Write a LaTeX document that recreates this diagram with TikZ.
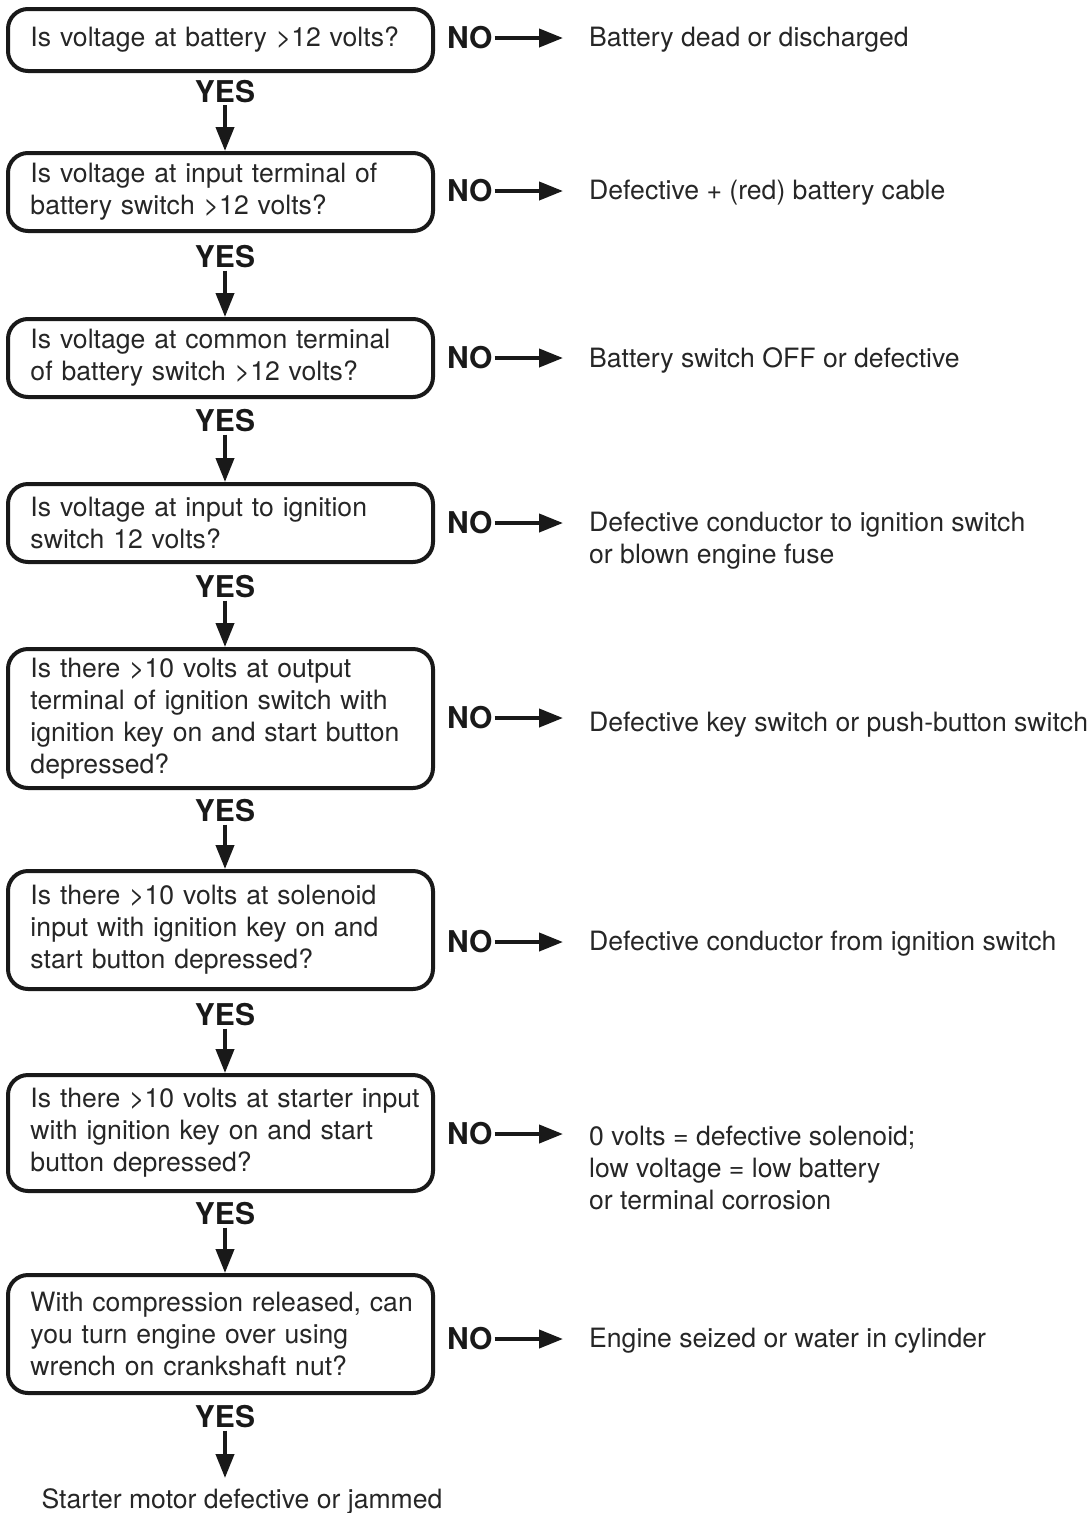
\documentclass[tikz,border=0pt]{standalone}
\usepackage{fontspec}
\setmainfont{TeX Gyre Heros}
\usetikzlibrary{arrows.meta}
\newcommand{\txtfont}{\fontsize{26.6}{32}\selectfont\hyphenpenalty=10000 }
\begin{document}
\begin{tikzpicture}[x=1pt,y=-1pt,
  qbox/.style={draw=black!90, line width=4pt, rounded corners=20pt, minimum width=425pt,
    text width=380pt, inner xsep=22.5pt, inner ysep=2pt, align=left,
    font=\txtfont, text=black!85},
  yeslbl/.style={font=\bfseries\fontsize{30}{32}\selectfont, inner sep=2pt, text=black!90},
  nolbl/.style={font=\bfseries\fontsize{30}{32}\selectfont, inner sep=2pt, text=black!90, anchor=west},
  ans/.style={font=\txtfont, align=left, anchor=west, inner sep=0pt, text=black!85},
  flow/.style={line width=4pt, draw=black!90, -{Triangle[length=24pt,width=18pt]}},
  sidearrow/.style={line width=4pt, draw=black!90, -{Triangle[length=24pt,width=18pt]}}
]
\useasboundingbox (0,0) rectangle (1092,1513);

% question boxes
\node[qbox, minimum height=62pt] (q1) at (220.5,40) {\mbox{Is voltage at battery >12 volts?}};
\node[qbox, minimum height=78pt] (q2) at (220.5,192) {\mbox{Is voltage at input terminal of}\\\mbox{battery switch >12 volts?}};
\node[qbox, minimum height=78pt] (q3) at (220.5,358) {\mbox{Is voltage at common terminal}\\\mbox{of battery switch >12 volts?}};
\node[qbox, minimum height=78pt] (q4) at (220.5,523) {\mbox{Is voltage at input to ignition}\\\mbox{switch 12 volts?}};
\node[qbox, minimum height=139pt] (q5) at (220.5,718.5) {\mbox{Is there >10 volts at output}\\\mbox{terminal of ignition switch with}\\\mbox{ignition key on and start button}\\\mbox{depressed?}};
\node[qbox, minimum height=118pt] (q6) at (220.5,930) {\mbox{Is there >10 volts at solenoid}\\\mbox{input with ignition key on and}\\\mbox{start button depressed?}};
\node[qbox, minimum height=116pt] (q7) at (220.5,1133) {\mbox{Is there >10 volts at starter input}\\\mbox{with ignition key on and start}\\\mbox{button depressed?}};
\node[qbox, minimum height=118pt] (q8) at (220.5,1334) {\mbox{With compression released, can}\\\mbox{you turn engine over using}\\\mbox{wrench on crankshaft nut?}};

% YES labels
\node[yeslbl] (y1) at (225,92) {YES};
\node[yeslbl] (y2) at (225,257) {YES};
\node[yeslbl] (y3) at (225,421) {YES};
\node[yeslbl] (y4) at (225,587) {YES};
\node[yeslbl] (y5) at (225,811) {YES};
\node[yeslbl] (y6) at (225,1015) {YES};
\node[yeslbl] (y7) at (225,1214) {YES};
\node[yeslbl] (y8) at (225,1417) {YES};

\node[font=\txtfont, inner sep=0pt, text=black!85] (fin) at (242,1501) {Starter motor defective or jammed};
\coordinate (finin) at (225,1478);

\draw[flow] (y1.south) -- (y1.south |- q2.north);
\draw[flow] (y2.south) -- (y2.south |- q3.north);
\draw[flow] (y3.south) -- (y3.south |- q4.north);
\draw[flow] (y4.south) -- (y4.south |- q5.north);
\draw[flow] (y5.south) -- (y5.south |- q6.north);
\draw[flow] (y6.south) -- (y6.south |- q7.north);
\draw[flow] (y7.south) -- (y7.south |- q8.north);
\draw[flow] (y8.south) -- (finin);

% NO labels
\node[nolbl] (n1) at (445,38) {NO};
\node[nolbl] (n2) at (445,191) {NO};
\node[nolbl] (n3) at (445,358) {NO};
\node[nolbl] (n4) at (445,523) {NO};
\node[nolbl] (n5) at (445,718) {NO};
\node[nolbl] (n6) at (445,942) {NO};
\node[nolbl] (n7) at (445,1134) {NO};
\node[nolbl] (n8) at (445,1339) {NO};

% answers
\node[ans] (a1) at (589,40) {Battery dead or discharged};
\node[ans] (a2) at (589,193) {Defective + (red) battery cable};
\node[ans] (a3) at (589,360) {Battery switch OFF or defective};
\node[ans] (a4) at (589,541) {Defective conductor to ignition switch\\or blown engine fuse};
\node[ans] (a5) at (589,725) {Defective key switch or push-button switch};
\node[ans] (a6) at (589,944) {Defective conductor from ignition switch};
\node[ans] (a7) at (589,1168) {0 volts = defective solenoid;\\low voltage = low battery\\or terminal corrosion};
\node[ans] (a8) at (589,1341) {Engine seized or water in cylinder};

\foreach \i/\yy in {1/38,2/191,3/358,4/523,5/718,6/942,7/1134,8/1339}{
  \coordinate (e\i) at (563,\yy);
  \draw[sidearrow] (n\i.east) -- (e\i);
}
\end{tikzpicture}
\end{document}
